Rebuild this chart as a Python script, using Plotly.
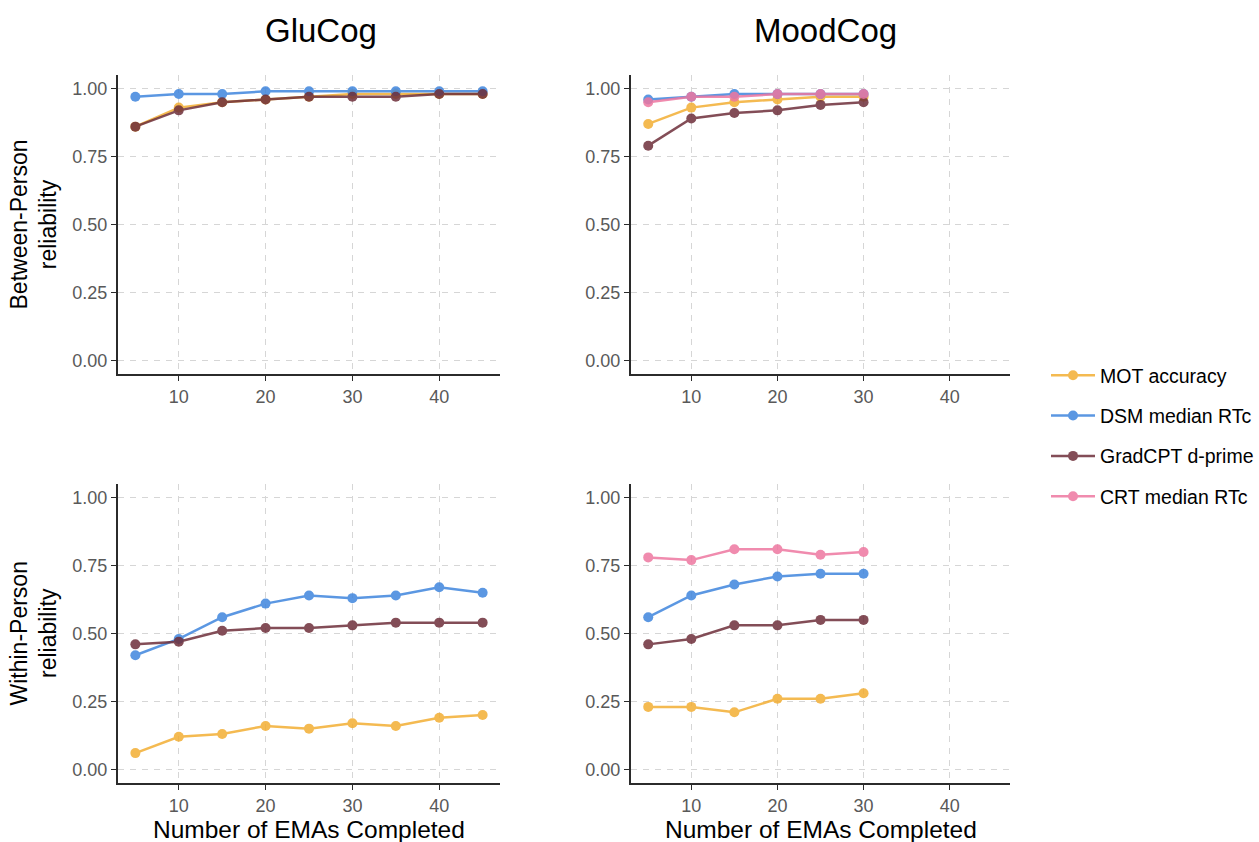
import plotly.graph_objects as go

# ---- data ----
emas_glu = [5, 10, 15, 20, 25, 30, 35, 40, 45]
emas_mood = [5, 10, 15, 20, 25, 30]

series_names = ["MOT accuracy", "DSM median RTc", "GradCPT d-prime", "CRT median RTc"]
series_colors = ["#F3AE33", "#3F86DE", "#6E2F3A", "#EE77A0"]

# GluCog between-person
glu_between = {
    "MOT accuracy": [0.86, 0.93, 0.95, 0.96, 0.97, 0.98, 0.98, 0.98, 0.98],
    "DSM median RTc": [0.97, 0.98, 0.98, 0.99, 0.99, 0.99, 0.99, 0.99, 0.99],
    "GradCPT d-prime": [0.86, 0.92, 0.95, 0.96, 0.97, 0.97, 0.97, 0.98, 0.98],
}
# MoodCog between-person
mood_between = {
    "MOT accuracy": [0.87, 0.93, 0.95, 0.96, 0.97, 0.97],
    "DSM median RTc": [0.96, 0.97, 0.98, 0.98, 0.98, 0.98],
    "GradCPT d-prime": [0.79, 0.89, 0.91, 0.92, 0.94, 0.95],
    "CRT median RTc": [0.95, 0.97, 0.97, 0.98, 0.98, 0.98],
}
# GluCog within-person
glu_within = {
    "MOT accuracy": [0.06, 0.12, 0.13, 0.16, 0.15, 0.17, 0.16, 0.19, 0.20],
    "DSM median RTc": [0.42, 0.48, 0.56, 0.61, 0.64, 0.63, 0.64, 0.67, 0.65],
    "GradCPT d-prime": [0.46, 0.47, 0.51, 0.52, 0.52, 0.53, 0.54, 0.54, 0.54],
}
# MoodCog within-person
mood_within = {
    "MOT accuracy": [0.23, 0.23, 0.21, 0.26, 0.26, 0.28],
    "DSM median RTc": [0.56, 0.64, 0.68, 0.71, 0.72, 0.72],
    "GradCPT d-prime": [0.46, 0.48, 0.53, 0.53, 0.55, 0.55],
    "CRT median RTc": [0.78, 0.77, 0.81, 0.81, 0.79, 0.80],
}

x_ticks = [10, 20, 30, 40]
y_ticks = [0, 0.25, 0.5, 0.75, 1.0]
col_titles = ["GluCog", "MoodCog"]
row_titles = ["Between-Person<br>reliability", "Within-Person<br>reliability"]
x_title = "Number of EMAs Completed"

W, H = 1259, 842
FONT = "Liberation Sans, Arial, sans-serif"

fig = go.Figure()

panels = [
    ("x", "y", emas_glu, glu_between),
    ("x2", "y2", emas_mood, mood_between),
    ("x3", "y3", emas_glu, glu_within),
    ("x4", "y4", emas_mood, mood_within),
]

shown = set()
for xa, ya, xs, data in panels:
    for name, color in zip(series_names, series_colors):
        if name not in data:
            continue
        fig.add_trace(go.Scatter(
            x=xs, y=data[name], mode="lines+markers", name=name,
            line=dict(color=color, width=2.5),
            marker=dict(color=color, size=10),
            opacity=0.85,
            xaxis=xa, yaxis=ya,
            legendgroup=name, showlegend=name not in shown,
        ))
        shown.add(name)

# panel domains in pixels
xdom_px = [(118, 500), (631, 1010)]
ydom_px = [(75, 374), (484, 783)]
title_cx = [321, 825]
xtitle_cx = [309, 821]

def xd(p):
    return [p[0] / W, p[1] / W]

def yd(p):
    return [1 - p[1] / H, 1 - p[0] / H]

axis_common = dict(
    showline=True, linecolor="#2B2B2B", linewidth=2,
    ticks="outside", ticklen=5, tickwidth=1.3, tickcolor="#2B2B2B",
    tickfont=dict(family=FONT, size=18, color="#595959"),
    showgrid=True, gridcolor="#D6D6D6", gridwidth=1, griddash="6px,6px",
    zeroline=False, mirror=False,
)

layout = {}
for i, (r, c) in enumerate([(0, 0), (0, 1), (1, 0), (1, 1)]):
    k = "" if i == 0 else str(i + 1)
    layout["xaxis" + k] = dict(
        axis_common, domain=xd(xdom_px[c]), range=[3, 47],
        tickvals=x_ticks, anchor="y" + k,
    )
    layout["yaxis" + k] = dict(
        axis_common, domain=yd(ydom_px[r]), range=[-0.05, 1.05],
        tickvals=y_ticks, tickformat=".2f", anchor="x" + k,
    )

annotations = []
for c, t in enumerate(col_titles):
    annotations.append(dict(
        text=t, x=title_cx[c] / W, y=1 - 30 / H, xref="paper", yref="paper",
        showarrow=False, xanchor="center", yanchor="middle",
        font=dict(family=FONT, size=33, color="#000000"),
    ))
    annotations.append(dict(
        text=x_title, x=xtitle_cx[c] / W, y=1 - 829 / H, xref="paper", yref="paper",
        showarrow=False, xanchor="center", yanchor="middle",
        font=dict(family=FONT, size=24.5, color="#000000"),
    ))
for r, t in enumerate(row_titles):
    cy = (ydom_px[r][0] + ydom_px[r][1]) / 2
    annotations.append(dict(
        text=t, x=33 / W, y=1 - cy / H, xref="paper", yref="paper",
        showarrow=False, xanchor="center", yanchor="middle", textangle=-90,
        font=dict(family=FONT, size=23, color="#000000"),
    ))

fig.update_layout(
    width=W, height=H,
    margin=dict(l=0, r=0, t=0, b=0),
    paper_bgcolor="white", plot_bgcolor="white",
    font=dict(family=FONT),
    showlegend=True,
    legend=dict(
        x=1046 / W, y=1 - 436 / H, xanchor="left", yanchor="middle",
        font=dict(family=FONT, size=19.5, color="#000000"),
        tracegroupgap=12, itemwidth=44, bgcolor="rgba(0,0,0,0)",
    ),
    annotations=annotations,
    **layout,
)

fig.write_html("out.html")
